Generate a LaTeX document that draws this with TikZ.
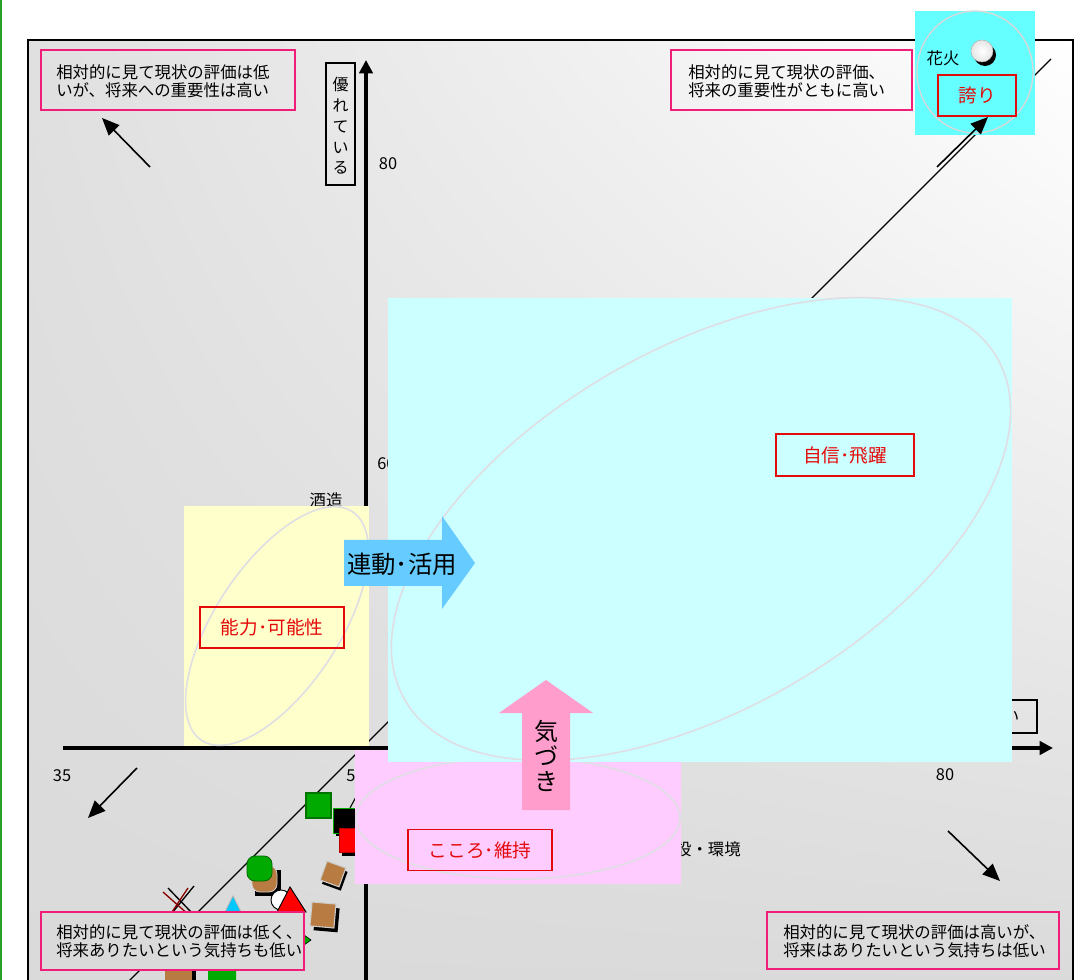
\documentclass[tikz,border=0pt]{standalone}
\usepackage{fontspec}
\setmainfont{Noto Sans CJK JP}
\usetikzlibrary{arrows.meta,shadings}
\definecolor{notepink}{RGB}{240,30,120}
\definecolor{lblred}{RGB}{228,10,10}
\definecolor{cyanbg}{RGB}{204,255,255}
\definecolor{yellowbg}{RGB}{255,255,204}
\definecolor{pinkbg}{RGB}{255,204,255}
\definecolor{hanabibg}{RGB}{102,255,255}
\definecolor{bluearrow}{RGB}{102,204,255}
\definecolor{pinkarrow}{RGB}{255,158,204}
\definecolor{ellgray}{RGB}{222,222,228}
\definecolor{bggray}{RGB}{218,218,218}
\definecolor{bglight}{RGB}{224,224,224}
\definecolor{mkgreen}{RGB}{0,170,0}
\definecolor{mkbrown}{RGB}{184,124,66}
\definecolor{mkblue}{RGB}{0,200,255}
\definecolor{pagegreen}{RGB}{40,160,40}
\tikzset{
  notebox/.style={draw=notepink, line width=1.4pt},
  notetext/.style={anchor=west, align=left, font=\fontsize{12.3}{13.6}\selectfont, inner sep=0pt},
  redlbl/.style={draw=lblred, line width=1.1pt, text=lblred, font=\fontsize{14}{15}\selectfont, inner sep=0pt},
  ptr/.style={line width=1.2pt, -{Triangle[length=13pt,width=11pt]}},
  axisline/.style={line width=3.6pt, -{Triangle[length=10pt,width=10pt]}},
  num/.style={font=\fontsize{12.3}{14}\selectfont, inner sep=0pt},
  ellline/.style={draw=ellgray, line width=1.2pt},
  mkshadow/.style={fill=black},
}
\begin{document}
\begin{tikzpicture}[x=0.75pt,y=-0.75pt]
\useasboundingbox (0,0) rectangle (1090,980);
\fill[white] (0,0) rectangle (1090,980);
\draw[pagegreen, line width=1.5pt] (1,0) -- (1,980);

% plot background and frame
\shade[upper left=bglight, upper right=white, lower left=bggray, lower right=bggray] (28,40) rectangle (1073,990);
\draw[line width=1.5pt] (28,990) -- (28,40) -- (1073,40) -- (1073,990);

% partly hidden labels
\node[num, anchor=center] (n80y) at (388,164) {80};
\node[num, anchor=west] (n60) at (377,464) {60};
\node[num] (n35) at (62,776) {35};
\node[num, anchor=west] (n50) at (346,776) {50};
\node[num] (n80x) at (945,775) {80};
\node[num] (sake) at (326,500) {酒造};
\node[num, anchor=east] (shisetsu) at (741,849) {施設・環境};
\draw[line width=0.9pt] (940,700) rectangle (1037,733);
\node[num] (xlab) at (1011,717) {い};
\draw[line width=0.9pt] (326,63) rectangle (355,185);
\node[font=\fontsize{12}{15.6}\selectfont, align=center, inner sep=0pt] (ylab) at (340.5,126) {優\\れ\\て\\い\\る};

% axes
\coordinate (yb) at (366,985);
\coordinate (yt) at (366,60);
\coordinate (xl) at (63,748);
\coordinate (xr) at (1053,748);
\draw[axisline] (yb) -- (yt);
\draw[axisline] (xl) -- (xr);

% diagonal
\coordinate (d0) at (125,985);
\coordinate (d1) at (1051,59);
\draw[line width=0.9pt] (d0) -- (d1);

% markers
\draw[line width=0.8pt] (350,808) -- (357,795);
\fill[mkshadow] (336,811) rectangle (358,836);
\filldraw[fill=black, draw=mkgreen, line width=0.6pt] (333,808) rectangle (355,833);
\fill[mkshadow] (342,831) rectangle (358,856);
\filldraw[fill=red, draw=red!70!black, line width=0.5pt] (339,828) rectangle (355,852);
\filldraw[fill=mkgreen, draw=green!45!black, line width=0.8pt] (306,793) rectangle (331,818);
\begin{scope}[shift={(333,874)}, rotate=-20]
  \fill[mkshadow] (-7,-7) rectangle (13,13);
  \filldraw[fill=mkbrown, draw=gray!40, line width=0.8pt] (-10,-10) rectangle (10,10);
\end{scope}
\begin{scope}[shift={(323,915)}, rotate=-5]
  \fill[mkshadow] (-8,-8) rectangle (16,16);
  \filldraw[fill=mkbrown, draw=gray!40, line width=0.8pt] (-12,-12) rectangle (12,12);
\end{scope}
\fill[black] (255,870) rectangle (281,896);
\filldraw[fill=mkbrown, draw=gray!40, rounded corners=6pt, line width=0.6pt] (252,866) rectangle (277,892);
\filldraw[fill=mkgreen, draw=green!40!black, rounded corners=6pt, line width=0.6pt] (247,856) rectangle (272,881);
\filldraw[fill=white, draw=black, line width=0.7pt] (281,900) circle (10);
\filldraw[fill=red, draw=black, line width=0.7pt] (290,887) -- (306,912) -- (277,912) -- cycle;
\filldraw[fill=mkblue, draw=gray!60, line width=0.6pt] (233,896) -- (242,914) -- (224,914) -- cycle;
\draw[black, line width=1pt] (168,888) -- (192,913);
\draw[black, line width=1pt] (172,913) -- (194,886);
\draw[red!55!black, line width=1pt] (163,892) -- (190,916);
\draw[red!55!black, line width=1pt] (168,918) -- (188,888);
\filldraw[fill=mkgreen, draw=black, line width=0.5pt] (304,935) -- (311,940) -- (304,945) -- cycle;
\fill[black] (168,970) rectangle (196,985);
\fill[mkbrown] (165,967) rectangle (192,985);
\fill[mkgreen] (208,968) -- (236,966) -- (236,985) -- (208,985) -- cycle;

% yellow region
\fill[yellowbg] (184,506) rectangle (369,746);
\draw[ellline] (277,626) ellipse [x radius=137, y radius=62, rotate=56.6];
\node[redlbl, minimum width=108pt, minimum height=30.5pt] (nouryoku) at (272,627.5) {能力･可能性};

% pink region
\fill[pinkbg] (355,750) rectangle (681,884);
\draw[ellline] (518,818) ellipse [x radius=162, y radius=61];
\node[redlbl, minimum width=108pt, minimum height=31pt] (kokoro) at (480,850) {こころ･維持};

% cyan region
\fill[cyanbg] (388,298) rectangle (1012,762);
\draw[ellline] (701,529) ellipse [x radius=342, y radius=180, rotate=30];
\node[redlbl, minimum width=103.5pt, minimum height=31.5pt] (jishin) at (845,455) {自信･飛躍};

% block arrows
\fill[bluearrow] (344,540) -- (442,540) -- (442,516) -- (475,563) -- (442,609) -- (442,586) -- (344,586) -- cycle;
\node[font=\fontsize{18.3}{20}\selectfont, inner sep=0pt] (rendo) at (402,564) {連動･活用};
\fill[pinkarrow] (522,810) -- (522,713) -- (499,713) -- (546,680) -- (593,713) -- (570,713) -- (570,810) -- cycle;
\node[font=\fontsize{18}{19}\selectfont, align=center, inner sep=0pt] (kizuki) at (546,756) {気\\づ\\き};

% hanabi
\fill[hanabibg] (915,11) rectangle (1035,135);
\draw[draw=gray!30, line width=1pt] (975,72) ellipse [x radius=58, y radius=61];
\node[num] (hanabi) at (943,58) {花火};
\fill[black] (985,55) circle (11);
\shade[inner color=white, outer color=gray!20] (982,51) circle (11);
\draw[gray!60, line width=0.4pt] (982,51) circle (11);
\node[redlbl, minimum width=58.5pt, minimum height=30.5pt] (hokori) at (977,95.5) {誇り};
\coordinate (ha0) at (937,167);
\coordinate (ha1) at (988,117);
\draw[ptr] (ha0) -- (ha1);

% corner notes
\draw[notebox] (41,50) rectangle (295,110);
\node[notetext] (ntl) at (56,81) {相対的に見て現状の評価は低\\いが、将来への重要性は高い};
\draw[notebox] (671,50) rectangle (912,110);
\node[notetext] (ntr) at (688,81) {相対的に見て現状の評価、\\将来の重要性がともに高い};
\filldraw[fill=bggray, draw=notepink, line width=1.4pt] (41,912) rectangle (304,970);
\node[notetext] (nbl) at (56,941) {相対的に見て現状の評価は低く、\\将来ありたいという気持ちも低い};
\draw[notebox] (767,912) rectangle (1059,969);
\node[notetext] (nbr) at (783,941) {相対的に見て現状の評価は高いが、\\将来はありたいという気持ちは低い};

\coordinate (atl0) at (150,167); \coordinate (atl1) at (102,118);
\coordinate (abl0) at (137,768); \coordinate (abl1) at (88,818);
\coordinate (abr0) at (948,831); \coordinate (abr1) at (1000,881);
\draw[ptr] (atl0) -- (atl1);
\draw[ptr] (abl0) -- (abl1);
\draw[ptr] (abr0) -- (abr1);
\end{tikzpicture}
\end{document}
